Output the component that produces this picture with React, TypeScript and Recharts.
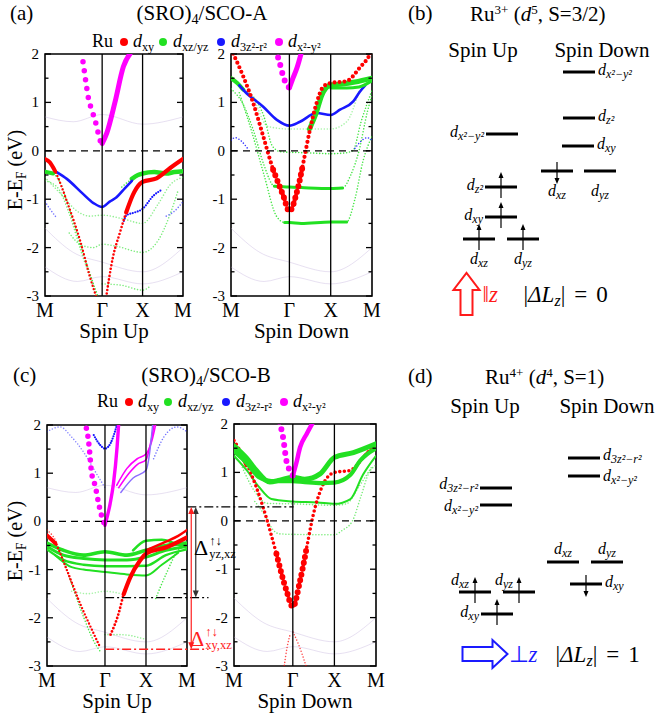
import React from 'react';
import {
  ComposedChart, Line, XAxis, YAxis, ReferenceLine, ReferenceArea, ScatterChart, Scatter,
} from 'recharts';

const FONT = '"Liberation Serif", "Times New Roman", serif';
const RED = '#ff0000';
const GREEN = '#22e022';
const BLUE = '#1818ff';
const MAGENTA = '#ff00ff';
const FAINT = '#b9a6d6';

// k-path M -> Γ (√2) -> X (1) -> M (1)
const K_GAMMA = 1.414;
const K_X = 2.414;
const K_MAX = 3.414;
const K_TICKS = [0, K_GAMMA, K_X, K_MAX];
const K_LABELS = ['M', 'Γ', 'X', 'M'];
const E_TICKS = [-3, -2.5, -2, -1.5, -1, -0.5, 0, 0.5, 1, 1.5, 2];

// ---------- (a) SCO-A, spin up ----------
const A_UP_X2_L = [[0.94, 1.84], [1.01, 1.43], [1.08, 1.06], [1.16, 0.84], [1.28, 0.5], [1.36, 0.22], [1.414, 0.15]];
const A_UP_X2_R = [[1.414, 0.15], [1.53, 0.37], [1.73, 1.0], [1.94, 1.74], [2.14, 2.05]];
const A_UP_XY_L = [[0, -0.17], [0.12, -0.24], [0.25, -0.42], [0.54, -1.04], [0.87, -1.86], [1.11, -2.6], [1.3, -3.1]];
const A_UP_XY_R = [[1.5, -3.1], [1.68, -2.2], [1.85, -1.7], [2.01, -1.27], [2.18, -0.9], [2.35, -0.68], [2.414, -0.64], [2.76, -0.57], [3.09, -0.36], [3.414, -0.17]];
const A_UP_G1 = [[0, -0.43], [0.2, -0.47], [0.35, -0.62], [0.6, -1.2], [0.9, -2.0], [1.2, -2.75], [1.35, -3.1]];
const A_UP_G2 = [[1.9, -0.75], [2.15, -0.58], [2.3, -0.5], [2.414, -0.47], [2.7, -0.44], [3.0, -0.47], [3.2, -0.44], [3.414, -0.42]];
const A_UP_G3 = [[0, -0.55], [0.4, -0.9], [0.8, -1.25], [1.1, -1.35], [1.414, -1.33], [1.9, -1.4], [2.414, -1.5], [2.8, -1.1], [3.1, -0.7], [3.414, -0.55]];
const A_UP_G4 = [[0.6, -1.7], [0.9, -1.95], [1.2, -2.0], [1.414, -1.93], [1.8, -1.98], [2.414, -2.1], [2.8, -1.85], [3.1, -1.3], [3.3, -0.8]];
const A_UP_G5 = [[1.414, -2.75], [1.9, -2.78], [2.414, -2.88], [2.6, -2.8]];
const A_UP_G6 = [[0, -0.62], [0.3, -0.75], [0.6, -1.3], [0.9, -2.1], [1.15, -2.7], [1.3, -3.1]];
const A_UP_B1 = [[0.29, -0.44], [0.54, -0.58], [0.94, -0.89], [1.2, -1.08], [1.414, -1.16], [1.6, -1.05], [1.77, -0.96], [1.98, -0.77], [2.15, -0.62]];
const A_UP_B2 = [[1.95, -1.45], [2.02, -1.33], [2.2, -1.28], [2.414, -1.2], [2.68, -0.93], [2.9, -0.8]];
const A_UP_B3 = [[0, -1.05], [0.12, -1.2], [0.3, -1.4]];
const A_UP_B4 = [[3.0, -1.35], [3.2, -1.25], [3.414, -1.05]];

// ---------- (a) SCO-A, spin down ----------
const A_DN_X2_L = [[1.14, 1.93], [1.2, 1.75], [1.26, 1.55], [1.34, 1.38], [1.414, 1.3]];
const A_DN_X2_R = [[1.414, 1.3], [1.5, 1.5], [1.6, 1.72], [1.71, 2.05]];
const A_DN_XY = [[0, 2.1], [0.056, 2.0], [0.3, 1.53], [0.54, 0.98], [0.78, 0.3], [1.02, -0.39], [1.27, -0.94], [1.414, -1.25], [1.59, -0.87], [1.75, -0.25], [1.91, 0.43], [2.07, 0.98], [2.23, 1.32], [2.414, 1.4], [2.8, 1.44], [3.12, 1.72], [3.37, 2.0], [3.414, 2.08]];
const A_DN_B1 = [[0.2, 1.35], [0.34, 1.22], [0.78, 0.91], [1.11, 0.64], [1.414, 0.52], [1.67, 0.6], [2.07, 0.78], [2.414, 0.74], [2.64, 0.85], [2.96, 1.02], [3.12, 1.22], [3.25, 1.35]];
const A_DN_B2 = [[0, 0.22], [0.1, 0.27], [0.25, 0.2], [0.4, 0.05]];
const A_DN_B3 = [[3.0, 0.05], [3.15, 0.2], [3.3, 0.27], [3.414, 0.22]];
const A_DN_G1 = [[0, 1.5], [0.15, 1.4], [0.3, 1.26], [0.54, 1.12], [0.8, 0.7], [1.0, 0.1], [1.2, -0.02], [1.414, -0.03], [1.8, -0.04], [2.414, -0.06], [2.7, -0.05], [2.95, 0.0], [3.15, 0.6], [3.414, 1.25]];
const A_DN_G2 = [[0, 1.28], [0.3, 0.95], [0.55, 0.4], [0.8, -0.3], [1.05, -0.73], [1.414, -0.75], [1.7, -0.76], [2.414, -0.78], [2.7, -0.77], [2.9, -0.5], [3.1, 0.0], [3.3, 0.8], [3.414, 1.15]];
const A_DN_G3 = [[0.2, 1.2], [0.5, 0.4], [0.8, -0.5], [1.1, -1.35], [1.3, -1.48], [1.414, -1.48], [1.7, -1.5], [2.414, -1.47], [2.8, -1.47], [3.0, -1.0], [3.2, -0.2], [3.414, 0.3]];
const A_DN_G4 = [[1.9, 0.45], [2.05, 0.75], [2.2, 1.15], [2.414, 1.36], [2.7, 1.38], [3.0, 1.42], [3.414, 1.5]];
const A_DN_G5 = [[2.414, 1.3], [2.8, 1.3], [3.1, 1.32], [3.414, 1.45]];
const A_DN_G6 = [[0.6, 1.0], [0.9, 0.5], [1.414, 0.45], [2.414, 0.45], [2.8, 0.6], [3.1, 1.25]];

// ---------- (c) SCO-B, spin up ----------
const C_UP_X2_L = [[0.96, 1.93], [1.01, 1.69], [1.05, 1.35], [1.08, 1.05], [1.18, 0.72], [1.26, 0.37], [1.34, 0.09], [1.414, -0.08]];
const C_UP_X2_R = [[1.414, -0.08], [1.54, 0.37], [1.62, 0.78], [1.71, 1.55], [1.75, 2.05]];
const C_UP_M1 = [[1.7, 0.75], [1.95, 1.1], [2.2, 1.3], [2.414, 1.4], [2.55, 1.65], [2.66, 2.05]];
const C_UP_M2 = [[1.75, 0.7], [2.0, 1.0], [2.2, 1.18], [2.414, 1.28], [2.52, 1.6], [2.62, 2.05]];
const C_UP_M3 = [[1.8, 0.6], [2.1, 0.9], [2.414, 1.06], [2.5, 1.4], [2.58, 2.05]];
const C_UP_B1 = [[1.14, 1.79], [1.3, 1.58], [1.414, 1.51], [1.55, 1.62], [1.67, 1.9], [1.72, 2.05]];
const C_UP_B2 = [[0, 1.86], [0.32, 1.96], [0.6, 1.75], [0.89, 1.44], [1.2, 1.0], [1.414, 0.7]];
const C_UP_B3 = [[2.6, 1.3], [2.85, 1.75], [3.17, 1.96], [3.414, 1.86]];
const C_UP_XY_L = [[0, -0.29], [0.2, -0.45], [0.49, -1.02], [0.81, -1.71], [1.14, -2.33], [1.3, -2.62]];
const C_UP_XY_R = [[1.55, -2.35], [1.75, -1.9], [1.87, -1.51], [2.03, -1.16], [2.27, -0.81], [2.414, -0.67], [2.93, -0.53], [3.414, -0.33]];
const C_UP_XY2_L = [[0, -0.18], [0.2, -0.38], [0.45, -0.95], [0.75, -1.6]];
const C_UP_XY2_R = [[2.414, -0.6], [2.9, -0.42], [3.2, -0.3], [3.414, -0.18]];
const C_UP_G1 = [[0, -0.45], [0.4, -0.6], [0.89, -0.7], [1.414, -0.63], [1.95, -0.7], [2.414, -0.6], [2.9, -0.5], [3.414, -0.45]];
const C_UP_G2 = [[0, -0.52], [0.4, -0.7], [0.89, -0.77], [1.414, -0.8], [1.95, -0.8], [2.414, -0.74], [2.9, -0.6], [3.414, -0.52]];
const C_UP_G3 = [[0, -0.58], [0.4, -0.8], [0.89, -0.9], [1.414, -0.93], [1.95, -0.93], [2.414, -0.92], [2.9, -0.7], [3.414, -0.58]];
const C_UP_G4 = [[0.2, -0.7], [0.6, -0.95], [0.89, -1.0], [1.414, -1.05], [1.95, -1.1], [2.414, -1.12], [2.8, -0.9], [3.2, -0.65]];
const C_UP_G5 = [[2.1, -0.6], [2.414, -0.4], [2.8, -0.38], [3.1, -0.45], [3.414, -0.55]];
const C_UP_G6 = [[0, -0.35], [0.3, -0.6], [0.6, -1.3], [0.9, -2.0], [1.15, -2.5], [1.3, -2.7]];
const C_UP_G7 = [[0.6, -1.45], [1.0, -1.5], [1.414, -1.45], [1.8, -1.5]];
const C_UP_G8 = [[2.65, -1.6], [2.9, -1.1], [3.2, -0.6], [3.414, -0.5]];
const C_UP_G9 = [[1.414, -2.35], [1.8, -2.35], [2.414, -2.45]];

// ---------- (c) SCO-B, spin down ----------
const C_DN_X2_L = [[1.09, 2.05], [1.18, 1.72], [1.26, 1.24], [1.34, 1.04], [1.414, 0.93]];
const C_DN_X2_R = [[1.414, 0.93], [1.5, 1.2], [1.59, 1.52], [1.75, 1.8], [1.91, 2.05]];
const C_DN_XY = [[0, 1.66], [0.38, 1.04], [0.7, 0.28], [1.02, -0.68], [1.26, -1.44], [1.414, -1.78], [1.59, -1.23], [1.75, -0.54], [1.91, 0.14], [2.11, 0.69], [2.414, 1.0], [2.79, 1.04], [3.11, 1.31], [3.414, 1.62]];
const C_DN_XY2 = [[0, 1.52], [0.15, 1.4], [0.3, 1.15]];
const C_DN_XY3 = [[3.0, 1.2], [3.2, 1.4], [3.414, 1.52]];
const C_DN_XY_LO1 = [[1.2, -3.05], [1.28, -2.6], [1.35, -2.35]];
const C_DN_XY_LO2 = [[1.42, -2.3], [1.55, -2.55], [1.75, -3.05]];
const C_DN_G1 = [[0, 1.55], [0.3, 1.3], [0.54, 1.04], [0.86, 0.8], [1.1, 0.84], [1.414, 0.9], [1.7, 0.86], [2.07, 0.97], [2.414, 1.31], [2.87, 1.41], [3.414, 1.59]];
const C_DN_G2 = [[0, 1.44], [0.3, 1.2], [0.6, 0.9], [0.9, 0.82], [1.414, 0.82], [1.7, 0.8], [2.1, 0.78], [2.414, 0.79], [2.8, 0.95], [3.03, 1.24], [3.414, 1.5]];
const C_DN_G3 = [[0, 1.34], [0.3, 1.05], [0.6, 0.7], [0.9, 0.45], [1.414, 0.4], [2.0, 0.38], [2.414, 0.35], [2.8, 0.45], [3.1, 0.95], [3.414, 1.34]];
const C_DN_G4 = [[0.2, 1.1], [0.5, 0.6], [0.8, 0.36], [1.414, 0.35], [2.414, 0.32], [2.7, 0.35], [3.0, 0.7], [3.3, 1.1]];
const C_DN_G5 = [[0.5, 0.4], [0.75, 0.1], [0.95, -0.2], [1.1, -0.27], [1.414, -0.28], [2.414, -0.29], [2.6, -0.2], [2.85, 0.0], [3.05, 0.5], [3.25, 1.0], [3.414, 1.15]];

// faint background bands (other atoms)
const BG_1 = [[0, -1.6], [0.7, -2.1], [1.414, -2.3], [2.414, -2.5], [3.414, -2.0]];
const BG_2 = [[0, -2.4], [0.8, -2.7], [1.414, -2.6], [2.414, -2.75], [3.414, -2.5]];
const BG_3 = [[0, 0.7], [0.7, 0.6], [1.414, 0.75], [2.414, 0.55], [3.414, 0.7]];

// gap annotation in (c): energy levels (eV)
const GAP_TOP = 0.3;
const GAP_YZ = -1.58;
const GAP_XY = -2.65;

// ---------- crystal-field level schemes ----------
const ORB_SUB: Record<string, string> = { x2y2: 'x²−y²', z2: 'z²', xy: 'xy', xz: 'xz', yz: 'yz', r3: '3z²−r²' };
const B_ORBS = ['x2y2', 'z2', 'xy', 'xz', 'yz'];
const B_UP_E = [10.3, 7.65, 6.15, 5.05, 5.05];
const B_DN_E = [13.4, 11.1, 9.7, 8.45, 8.45];
const B_UP_OCC = [0, 1, 1, 1, 1];
const B_DN_OCC = [0, 0, 0, -1, 0];
const D_ORBS = ['r3', 'x2y2', 'xz', 'yz', 'xy'];
const D_UP_E = [10.6, 9.75, 5.4, 5.4, 4.3];
const D_DN_E = [12.1, 11.2, 6.9, 6.9, 5.8];
const D_UP_OCC = [0, 0, 1, 1, 1];
const D_DN_OCC = [0, 0, 0, 0, -1];

// layout of the schemes
const B_UP_X = [122, 121, 121, 99, 143];
const B_DN_X = [199, 199, 198, 177, 220];
const B_UP_SIDE = ['left', 'left', 'left', 'below', 'below'];
const B_DN_SIDE = ['right', 'right', 'right', 'below', 'below'];
const B_NUDGE = [0, 0, 0, 0, 0];
const D_UP_X = [116, 116, 95, 139, 117];
const D_DN_X = [204, 204, 183, 227, 206];
const D_UP_SIDE = ['left', 'left', 'aboveLeft', 'aboveLeft', 'left'];
const D_DN_SIDE = ['right', 'right', 'above', 'above', 'right'];
const D_UP_NUDGE = [-2, 3, 0, 0, 0];
const D_DN_NUDGE = [-1, 2, 0, 0, 0];

type Band = { pts: number[][]; color: string; w: number; gap?: number; op?: number; k0?: number; k1?: number };

const bg = (pts: number[][]): Band => ({ pts, color: FAINT, w: 1, op: 0.35 });
const thin = (pts: number[][], color: string, op = 0.85): Band => ({ pts, color, w: 1.6, gap: 3, op });

const BANDS_A_UP: Band[] = [
  bg(BG_1), bg(BG_2), bg(BG_3),
  thin(A_UP_G3, GREEN, 0.5), thin(A_UP_G4, GREEN, 0.6), thin(A_UP_G5, GREEN, 0.6), thin(A_UP_G6, GREEN, 0.6),
  thin(A_UP_G1, GREEN), { pts: A_UP_G1, color: GREEN, w: 4, k1: 0.22 },
  thin(A_UP_G2, GREEN), { pts: A_UP_G2, color: GREEN, w: 4.5, k0: 2.1 },
  thin(A_UP_B3, BLUE, 0.6), thin(A_UP_B4, BLUE, 0.6),
  { pts: A_UP_B1, color: BLUE, w: 2.6 }, { pts: A_UP_B2, color: BLUE, w: 2.2, gap: 2.6 },
  { pts: A_UP_XY_L, color: RED, w: 2.4, gap: 3.6 }, { pts: A_UP_XY_L, color: RED, w: 4, k1: 0.25 },
  { pts: A_UP_XY_R, color: RED, w: 2.6, gap: 3.6 }, { pts: A_UP_XY_R, color: RED, w: 4.2, k0: 2.0 },
  { pts: A_UP_X2_L, color: MAGENTA, w: 5.5, gap: 9 }, { pts: A_UP_X2_R, color: MAGENTA, w: 5 },
];

const BANDS_A_DN: Band[] = [
  bg(BG_1), bg(BG_2),
  thin(A_DN_G6, GREEN, 0.4),
  thin(A_DN_G1, GREEN), { pts: A_DN_G1, color: GREEN, w: 4, k1: 0.3 },
  thin(A_DN_G2, GREEN), { pts: A_DN_G2, color: GREEN, w: 3, k0: 1.0, k1: 2.75 },
  thin(A_DN_G3, GREEN), { pts: A_DN_G3, color: GREEN, w: 3, k0: 1.3, k1: 2.85 },
  { pts: A_DN_B1, color: BLUE, w: 2.6 }, thin(A_DN_B2, BLUE), thin(A_DN_B3, BLUE),
  { pts: A_DN_G4, color: GREEN, w: 5 }, { pts: A_DN_G5, color: GREEN, w: 3 },
  { pts: A_DN_XY, color: RED, w: 4.2, gap: 5 }, { pts: A_DN_XY, color: RED, w: 6, gap: 6, k0: 1.0, k1: 1.8 },
  { pts: A_DN_X2_L, color: MAGENTA, w: 6, gap: 8 }, { pts: A_DN_X2_R, color: MAGENTA, w: 5 },
];

const BANDS_C_UP: Band[] = [
  bg(BG_1), bg(BG_2), bg(BG_3),
  thin(C_UP_B2, BLUE, 0.5), thin(C_UP_B3, BLUE, 0.6),
  thin(C_UP_G6, GREEN), thin(C_UP_G7, GREEN, 0.4), thin(C_UP_G8, GREEN), thin(C_UP_G9, GREEN, 0.5),
  thin(C_UP_XY2_L, RED, 0.7),
  { pts: C_UP_G1, color: GREEN, w: 3.6 }, { pts: C_UP_G2, color: GREEN, w: 3 },
  { pts: C_UP_G3, color: GREEN, w: 2.4 }, { pts: C_UP_G4, color: GREEN, w: 2 },
  { pts: C_UP_G5, color: GREEN, w: 2.6 },
  { pts: C_UP_M1, color: MAGENTA, w: 1.6 }, { pts: C_UP_M2, color: MAGENTA, w: 1.6 }, { pts: C_UP_M3, color: '#8a6cff', w: 1.4 },
  { pts: C_UP_B1, color: BLUE, w: 2.2, gap: 2.4 },
  { pts: C_UP_XY_L, color: RED, w: 2.4, gap: 3.4 }, { pts: C_UP_XY_L, color: RED, w: 4, k1: 0.2 },
  { pts: C_UP_XY_R, color: RED, w: 2.8, gap: 3.6 }, { pts: C_UP_XY_R, color: RED, w: 4.2, k0: 1.85 },
  { pts: C_UP_XY2_R, color: RED, w: 2.4 },
  { pts: C_UP_X2_L, color: MAGENTA, w: 5.5, gap: 8 }, { pts: C_UP_X2_R, color: MAGENTA, w: 3.4 },
];

const BANDS_C_DN: Band[] = [
  bg(BG_1), bg(BG_2),
  thin(C_DN_G4, GREEN, 0.6), thin(C_DN_G5, GREEN, 0.6),
  { pts: C_DN_G3, color: GREEN, w: 2 },
  thin(C_DN_XY_LO1, RED, 0.7), thin(C_DN_XY_LO2, RED, 0.7),
  { pts: C_DN_XY, color: RED, w: 3.6, gap: 4.6 }, { pts: C_DN_XY, color: RED, w: 6, gap: 6, k0: 1.0, k1: 1.8 },
  { pts: C_DN_XY2, color: RED, w: 4 }, { pts: C_DN_XY3, color: RED, w: 3 },
  { pts: C_DN_G2, color: GREEN, w: 4.2 }, { pts: C_DN_G1, color: GREEN, w: 5 },
  { pts: C_DN_X2_L, color: MAGENTA, w: 6, gap: 8 }, { pts: C_DN_X2_R, color: MAGENTA, w: 4.5 },
];

const toRows = (b: Band) =>
  b.pts.filter(([k]) => k >= (b.k0 ?? -1) && k <= (b.k1 ?? 9)).map(([k, e]) => ({ k, e }));

const Txt = ({ x, y, size, children, anchor = 'start', color = '#000', italic = false }: any) => (
  <div
    style={{
      position: 'absolute', left: x, top: y - size * 0.56, fontSize: size, lineHeight: 1, fontFamily: FONT,
      color, whiteSpace: 'nowrap', fontStyle: italic ? 'italic' : 'normal',
      transform: anchor === 'middle' ? 'translateX(-50%)' : anchor === 'end' ? 'translateX(-100%)' : undefined,
    }}
  >
    {children}
  </div>
);

const Sub = ({ children }: any) => (
  <span style={{ fontSize: '0.68em', verticalAlign: '-0.3em', fontStyle: 'normal' }}>{children}</span>
);
const Sup = ({ children }: any) => (
  <span style={{ fontSize: '0.62em', verticalAlign: '0.55em' }}>{children}</span>
);

function BandPlot({ x, y, w, h, bands, spin, yLabel }: { x: number; y: number; w: number; h: number; bands: Band[]; spin: string; yLabel?: boolean }) {
  const YTick = (p: any) => {
    const v = p.payload.value;
    const major = Number.isInteger(v);
    const ax = p.x + 5;
    const len = major ? 6 : 3.5;
    return (
      <g>
        <line x1={ax} x2={ax + len} y1={p.y} y2={p.y} stroke="#000" strokeWidth={1.3} />
        <line x1={ax + w} x2={ax + w - len} y1={p.y} y2={p.y} stroke="#000" strokeWidth={1.3} />
        {major && (
          <text x={p.x - 1} y={p.y + 5} textAnchor="end" fontSize={15} fontFamily={FONT} fill="#000">{v}</text>
        )}
      </g>
    );
  };
  return (
    <>
      <div style={{ position: 'absolute', left: x - 40, top: y - 10 }}>
        <ComposedChart width={w + 50} height={h + 50} margin={{ top: 10, right: 10, bottom: 0, left: 0 }}>
          <XAxis
            type="number" dataKey="k" domain={[0, K_MAX]} ticks={K_TICKS} interval={0} allowDataOverflow
            height={40} axisLine={false} tickLine={false} tickSize={0} tickMargin={7}
            tickFormatter={(v: number) => K_LABELS[K_TICKS.indexOf(v)]}
            tick={{ fontSize: 20, fill: '#000', fontFamily: FONT }}
          />
          <YAxis
            type="number" dataKey="e" domain={[-3, 2]} ticks={E_TICKS} interval={0} allowDataOverflow
            width={40} axisLine={false} tickLine={false} tickSize={0} tickMargin={5} tick={<YTick />}
          />
          {bands.map((b, i) => (
            <Line
              key={i} data={toRows(b)} dataKey="e" type="monotone" stroke={b.color} strokeWidth={b.w}
              strokeDasharray={b.gap ? `0 ${b.gap}` : undefined} strokeLinecap="round" strokeOpacity={b.op ?? 1}
              dot={false} activeDot={false} isAnimationActive={false}
            />
          ))}
          <ReferenceLine y={0} stroke="#000" strokeWidth={1.3} strokeDasharray="7 5" />
          <ReferenceLine x={K_GAMMA} stroke="#000" strokeWidth={1.3} />
          <ReferenceLine x={K_X} stroke="#000" strokeWidth={1.3} />
          <ReferenceArea x1={0} x2={K_MAX} y1={-3} y2={2} fill="none" fillOpacity={0} stroke="#000" strokeWidth={1.6} />
        </ComposedChart>
      </div>
      <Txt x={x + w / 2} y={y + h + 37} size={21} anchor="middle">{spin}</Txt>
      {yLabel && (
        <div
          style={{
            position: 'absolute', left: 17, top: y + h * 0.48, transform: 'translate(-50%,-50%) rotate(-90deg)',
            fontSize: 20, fontFamily: FONT, whiteSpace: 'nowrap', lineHeight: 1,
          }}
        >
          E-E<Sub>F</Sub> (eV)
        </div>
      )}
    </>
  );
}

const Dot = ({ x, y, color }: any) => (
  <div style={{ position: 'absolute', left: x - 4, top: y - 4, width: 8, height: 8, borderRadius: 4, background: color }} />
);

function LegendRow({ x0, y }: { x0: number; y: number }) {
  return (
    <>
      <Txt x={x0} y={y} size={18}>Ru</Txt>
      <Dot x={x0 + 32} y={y} color={RED} />
      <Txt x={x0 + 41} y={y} size={18} italic>d<Sub>xy</Sub></Txt>
      <Dot x={x0 + 71} y={y} color={GREEN} />
      <Txt x={x0 + 81} y={y} size={18} italic>d<Sub>xz/yz</Sub></Txt>
      <Dot x={x0 + 129} y={y} color={BLUE} />
      <Txt x={x0 + 139} y={y} size={18} italic>d<Sub>3z²-r²</Sub></Txt>
      <Dot x={x0 + 187} y={y} color={MAGENTA} />
      <Txt x={x0 + 196} y={y} size={18} italic>d<Sub>x²-y²</Sub></Txt>
    </>
  );
}

function LevelShape(props: any) {
  const { cx, cy, payload } = props;
  const half = 16;
  const { orb, occ, side, nudge } = payload;
  let tx = cx, ty = cy + 3, anchor: any = 'start';
  if (side === 'left') { tx = cx - half - 2; anchor = 'end'; }
  if (side === 'right') { tx = cx + half + 3; }
  if (side === 'below') { ty = cy + 25; anchor = 'middle'; }
  if (side === 'above') { ty = cy - 8; anchor = 'middle'; }
  if (side === 'aboveLeft') { tx = cx - 6; ty = cy - 7; anchor = 'end'; }
  ty += nudge;
  return (
    <g>
      <line x1={cx - half} x2={cx + half} y1={cy} y2={cy} stroke="#000" strokeWidth={3} />
      {occ === 1 && (
        <g>
          <line x1={cx} x2={cx} y1={cy + 11} y2={cy - 10} stroke="#000" strokeWidth={1.2} />
          <polygon points={`${cx - 2.5},${cy - 9} ${cx + 2.5},${cy - 9} ${cx},${cy - 15}`} fill="#000" />
        </g>
      )}
      {occ === -1 && (
        <g>
          <line x1={cx} x2={cx} y1={cy - 9} y2={cy + 8} stroke="#000" strokeWidth={1.2} />
          <polygon points={`${cx - 2.5},${cy + 7} ${cx + 2.5},${cy + 7} ${cx},${cy + 13}`} fill="#000" />
        </g>
      )}
      <text x={tx} y={ty} textAnchor={anchor} fontFamily={FONT} fill="#000">
        <tspan fontSize={16} fontStyle="italic">d</tspan>
        <tspan fontSize={12} fontStyle="italic" dy={3}>{ORB_SUB[orb]}</tspan>
      </text>
    </g>
  );
}

function PolarShape(props: any) {
  const { cx, cy, payload } = props;
  const up = payload.dir === 'up';
  const color = up ? '#ff1a1a' : '#1a1aff';
  const arrow = up
    ? `${cx - 6},${cy + 21} ${cx + 6},${cy + 21} ${cx + 6},${cy - 4} ${cx + 13},${cy - 4} ${cx},${cy - 21} ${cx - 13},${cy - 4} ${cx - 6},${cy - 4}`
    : `${cx - 22},${cy - 7} ${cx + 8},${cy - 7} ${cx + 8},${cy - 14} ${cx + 23},${cy} ${cx + 8},${cy + 14} ${cx + 8},${cy + 7} ${cx - 22},${cy + 7}`;
  const t1 = up ? cx + 16 : cx + 24;
  const t2 = up ? cx + 57 : cx + 71;
  return (
    <g>
      <polygon points={arrow} fill="none" stroke={color} strokeWidth={2} />
      <text x={t1} y={cy + 8} fill={color} fontFamily={FONT} fontSize={23}>
        <tspan>{up ? '‖' : '⊥'}</tspan>
        <tspan fontStyle="italic">z</tspan>
      </text>
      <text x={t2} y={cy + 8} fill="#000" fontFamily={FONT} fontSize={23}>
        <tspan>|</tspan>
        <tspan fontStyle="italic">ΔL</tspan>
        <tspan fontStyle="italic" fontSize={16} dy={4}>z</tspan>
        <tspan dy={-4}>|</tspan>
        <tspan dx={9}>=</tspan>
        <tspan dx={9}>{payload.dL}</tspan>
      </text>
    </g>
  );
}

const buildLevels = (orbs: string[], es: number[], occ: number[], xs: number[], sides: string[], nudges: number[]) =>
  orbs.map((orb, i) => ({ orb, e: es[i], occ: occ[i], x: xs[i], side: sides[i], nudge: nudges[i] }));

function Scheme({ top, levels, polar }: { top: number; levels: any[]; polar: any[] }) {
  return (
    <div style={{ position: 'absolute', left: 380, top }}>
      <ScatterChart width={279} height={340} margin={{ top: 0, right: 0, bottom: 0, left: 0 }}>
        <XAxis type="number" dataKey="x" domain={[0, 279]} hide />
        <YAxis type="number" dataKey="e" domain={[0, 17]} hide />
        <Scatter data={levels} shape={<LevelShape />} isAnimationActive={false} />
        <Scatter data={polar} shape={<PolarShape />} isAnimationActive={false} />
      </ScatterChart>
    </div>
  );
}

// (c) overlay scale: k-units of the left (c) panel, extended to the right panel
const OV_KMAX = 8.03;
const OV_RIGHT_START = 3.414;
const OV_RIGHT_GAMMA = 6.0;
const OV_END = 3.93;
const OV_ARROW_YZ = 3.62;
const OV_ARROW_XY = 3.51;

const arrowShape = (color: string) => (p: any) => {
  const { x1, y1, x2, y2 } = p;
  const top = Math.min(y1, y2), bot = Math.max(y1, y2);
  return (
    <g>
      <line x1={x1} x2={x2} y1={top + 5} y2={bot - 5} stroke={color} strokeWidth={1.2} />
      <polygon points={`${x1 - 3},${top + 7} ${x1 + 3},${top + 7} ${x1},${top}`} fill={color} />
      <polygon points={`${x1 - 3},${bot - 7} ${x1 + 3},${bot - 7} ${x1},${bot}`} fill={color} />
    </g>
  );
};

function GapOverlay() {
  return (
    <div style={{ position: 'absolute', left: 46.7, top: 425, pointerEvents: 'none' }}>
      <ComposedChart width={330} height={241} margin={{ top: 0, right: 0, bottom: 0, left: 0 }}>
        <XAxis type="number" dataKey="k" domain={[0, OV_KMAX]} hide allowDataOverflow />
        <YAxis type="number" domain={[-3, 2]} hide allowDataOverflow />
        <ReferenceLine segment={[{ x: OV_RIGHT_START, y: GAP_TOP }, { x: OV_RIGHT_GAMMA, y: GAP_TOP }]} stroke="#000" strokeWidth={1.2} strokeDasharray="9 3 2 3" ifOverflow="visible" />
        <ReferenceLine segment={[{ x: K_GAMMA, y: GAP_YZ }, { x: OV_END, y: GAP_YZ }]} stroke="#000" strokeWidth={1.2} strokeDasharray="9 3 2 3" ifOverflow="visible" />
        <ReferenceLine segment={[{ x: K_GAMMA, y: GAP_XY }, { x: OV_END, y: GAP_XY }]} stroke="#ff2020" strokeWidth={1.5} strokeDasharray="9 3 2 3" ifOverflow="visible" />
        <ReferenceLine segment={[{ x: OV_ARROW_YZ, y: GAP_TOP }, { x: OV_ARROW_YZ, y: GAP_YZ }]} shape={arrowShape('#333')} ifOverflow="visible" />
        <ReferenceLine segment={[{ x: OV_ARROW_XY, y: GAP_TOP }, { x: OV_ARROW_XY, y: GAP_XY }]} shape={arrowShape('#ff2020')} ifOverflow="visible" />
      </ComposedChart>
    </div>
  );
}

const GapLabel = ({ x, y, sub, color }: any) => (
  <div style={{ position: 'absolute', left: x, top: y, fontFamily: FONT, color, display: 'flex', alignItems: 'center', whiteSpace: 'nowrap' }}>
    <span style={{ fontSize: 22, lineHeight: 1 }}>Δ</span>
    <span style={{ display: 'inline-flex', flexDirection: 'column', fontSize: 12.5, lineHeight: 1, marginLeft: 1 }}>
      <span>↑↓</span>
      <span>{sub}</span>
    </span>
  </div>
);

export default function App() {
  const levelsB = [
    ...buildLevels(B_ORBS, B_UP_E, B_UP_OCC, B_UP_X, B_UP_SIDE, B_NUDGE),
    ...buildLevels(B_ORBS, B_DN_E, B_DN_OCC, B_DN_X, B_DN_SIDE, B_NUDGE),
  ];
  const levelsD = [
    ...buildLevels(D_ORBS, D_UP_E, D_UP_OCC, D_UP_X, D_UP_SIDE, D_UP_NUDGE),
    ...buildLevels(D_ORBS, D_DN_E, D_DN_OCC, D_DN_X, D_DN_SIDE, D_DN_NUDGE),
  ];
  return (
    <div style={{ position: 'absolute', left: 0, top: 0, width: 659, height: 719, background: '#fff', overflow: 'hidden', fontFamily: FONT }}>
      {/* (a) */}
      <Txt x={10} y={15} size={21}>(a)</Txt>
      <Txt x={202} y={15} size={21} anchor="middle">(SRO)<Sub>4</Sub>/SCO-A</Txt>
      <LegendRow x0={92} y={42} />
      <BandPlot x={45} y={54} w={138} h={242} bands={BANDS_A_UP} spin="Spin Up" yLabel />
      <BandPlot x={231} y={54} w={141} h={242} bands={BANDS_A_DN} spin="Spin Down" />

      {/* (b) */}
      <Txt x={408} y={15} size={21}>(b)</Txt>
      <Txt x={470} y={15} size={21}>Ru<Sup>3+</Sup> (<i>d</i><Sup>5</Sup>, S=3/2)</Txt>
      <Txt x={483} y={52} size={21} anchor="middle">Spin Up</Txt>
      <Txt x={602} y={52} size={21} anchor="middle">Spin Down</Txt>
      <Scheme top={0} levels={levelsB} polar={[{ x: 86.5, e: 2.3, dir: 'up', dL: 0 }]} />

      {/* (c) */}
      <Txt x={13} y={377} size={21}>(c)</Txt>
      <Txt x={206} y={377} size={21} anchor="middle">(SRO)<Sub>4</Sub>/SCO-B</Txt>
      <LegendRow x0={97} y={402} />
      <BandPlot x={47} y={425} w={140} h={241} bands={BANDS_C_UP} spin="Spin Up" yLabel />
      <BandPlot x={234} y={424} w={142} h={242} bands={BANDS_C_DN} spin="Spin Down" />
      <GapOverlay />
      <GapLabel x={194} y={535} sub="yz,xz" color="#000" />
      <GapLabel x={190} y={626} sub="xy,xz" color="#ff2020" />

      {/* (d) */}
      <Txt x={408} y={378} size={21}>(d)</Txt>
      <Txt x={485} y={378} size={21}>Ru<Sup>4+</Sup> (<i>d</i><Sup>4</Sup>, S=1)</Txt>
      <Txt x={485} y={408} size={21} anchor="middle">Spin Up</Txt>
      <Txt x={607} y={408} size={21} anchor="middle">Spin Down</Txt>
      <Scheme top={360} levels={levelsD} polar={[{ x: 104.5, e: 2.3, dir: 'right', dL: 1 }]} />
    </div>
  );
}
